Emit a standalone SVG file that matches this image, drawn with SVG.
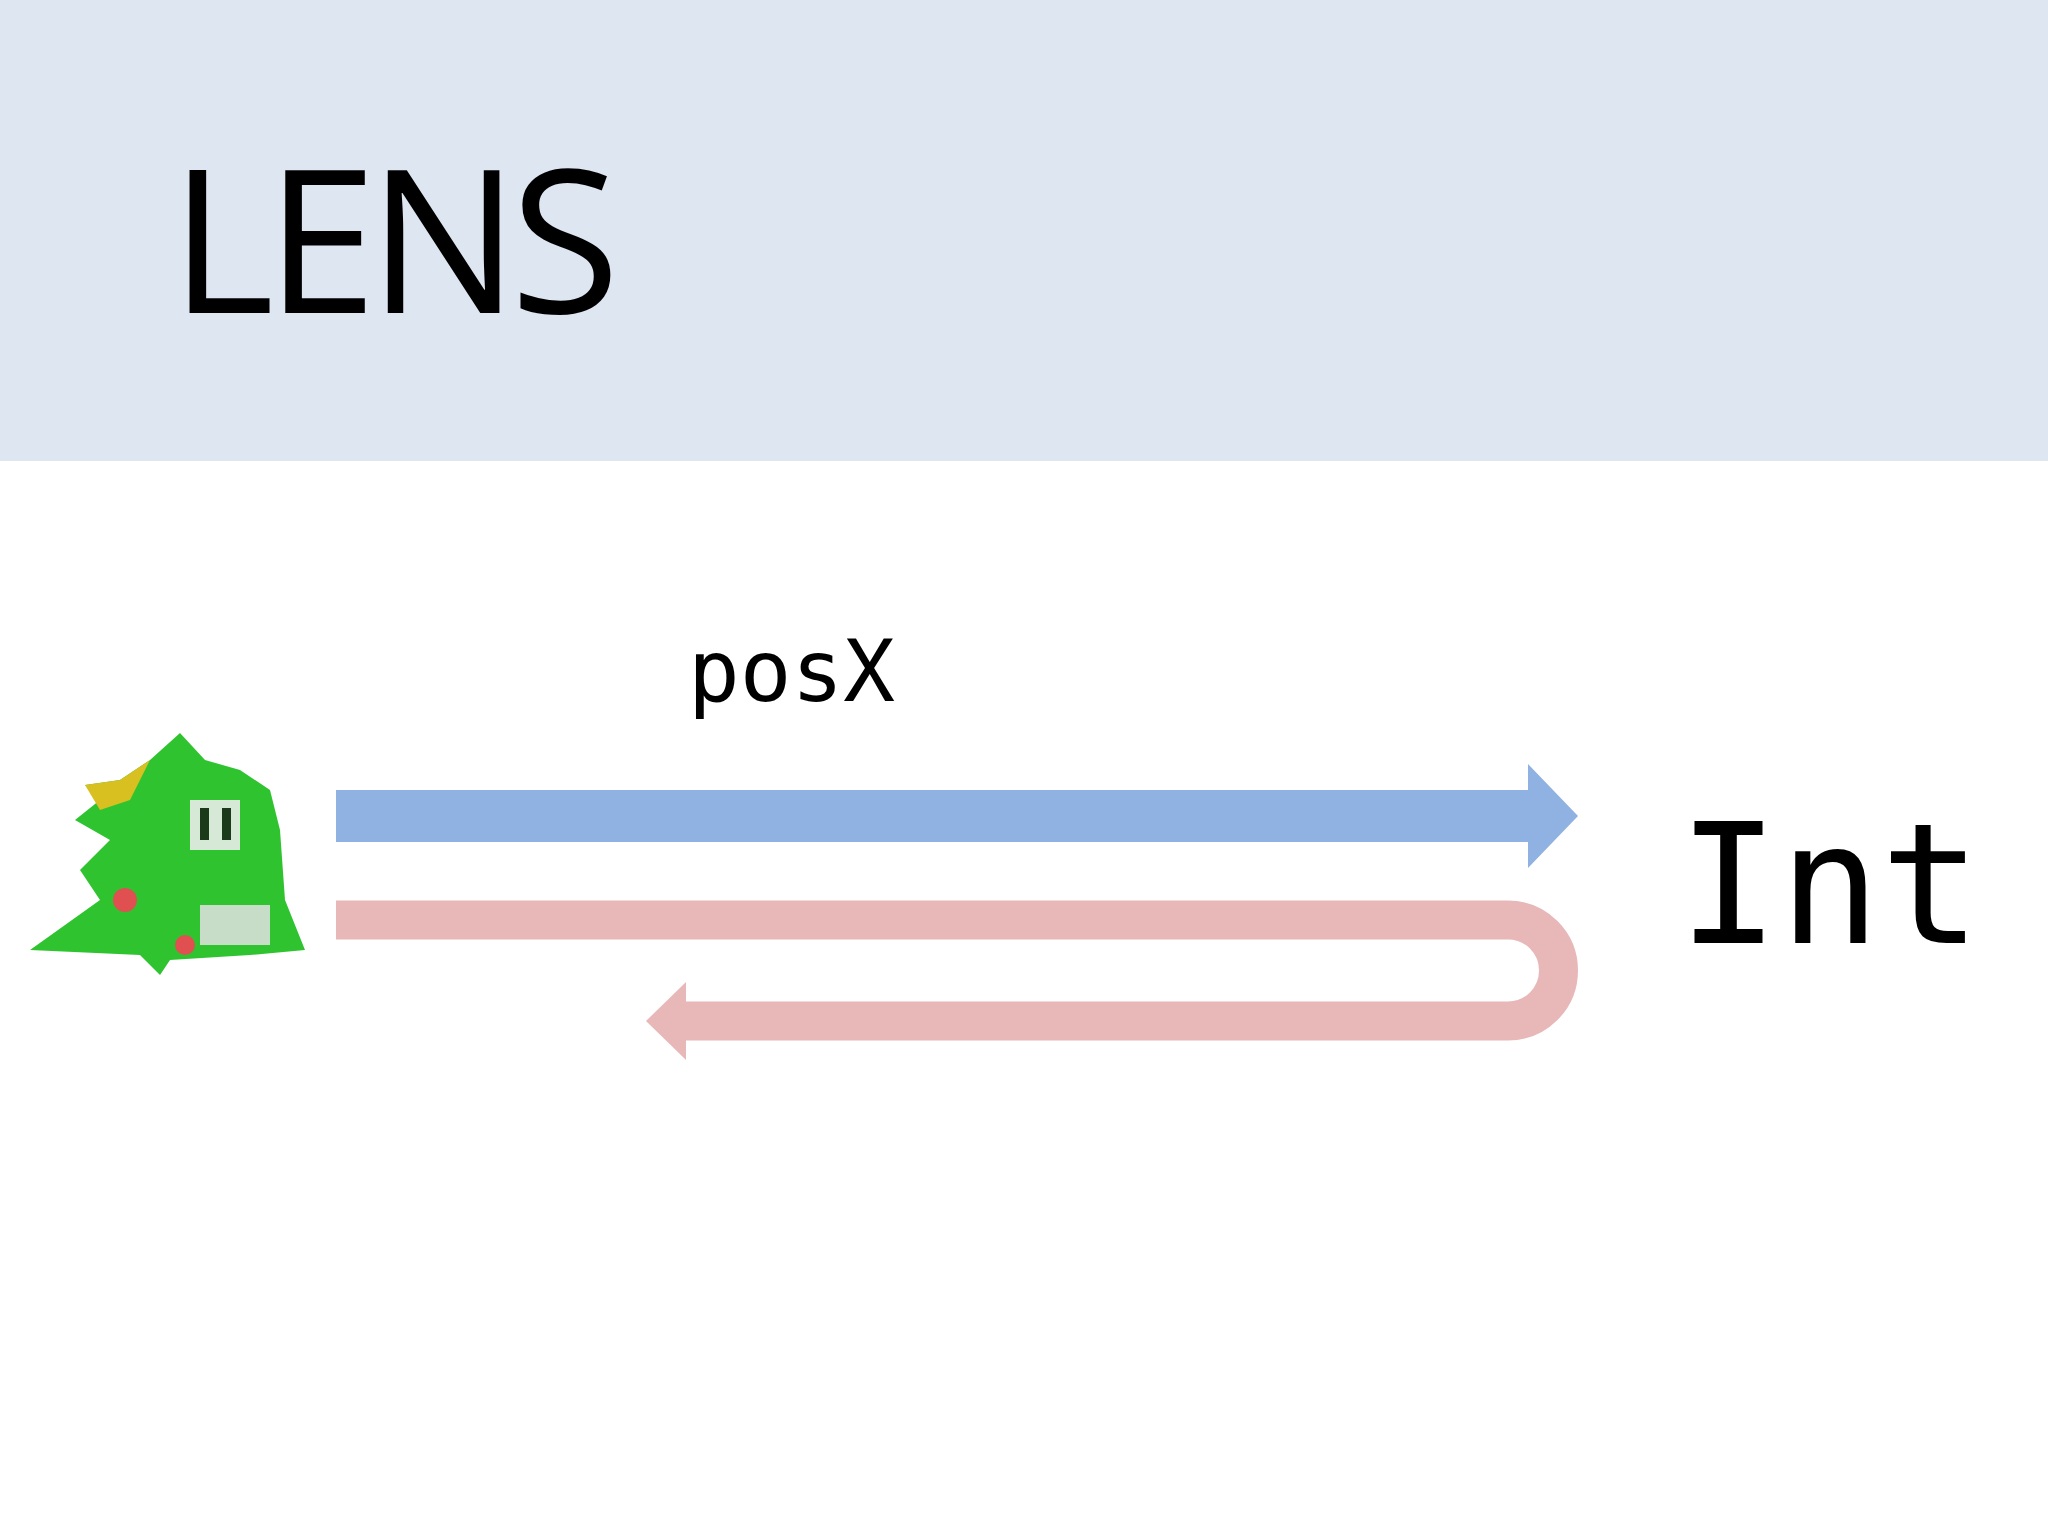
<svg xmlns="http://www.w3.org/2000/svg" width="2048" height="1536" viewBox="0 0 2048 1536">
<style>
.title{font-family:"Open Sans","Liberation Sans",sans-serif;font-size:200px;fill:#000}
.mono{font-family:"DejaVu Sans Mono","Liberation Mono",monospace;fill:#000}
</style>
<rect width="2048" height="1536" fill="#fff"/>
<rect id="header" width="2048" height="461" fill="#dee6f2"/>
<text class="title" x="170" y="313" textLength="450">LENS</text>
<g id="sprite">
<polygon points="30,950 100,900 80,870 110,840 75,820 100,800 85,785 120,780 150,760 180,733 205,760 240,770 270,790 280,830 285,900 305,950 250,955 170,960 160,975 140,955" fill="#2fc42f"/>
<polygon points="85,785 120,780 150,760 130,800 100,810" fill="#d8c020"/>
<rect x="190" y="800" width="50" height="50" fill="#d6e8d6"/>
<rect x="200" y="808" width="9" height="32" fill="#1a3a1a"/>
<rect x="222" y="808" width="9" height="32" fill="#1a3a1a"/>
<circle cx="125" cy="900" r="12" fill="#e05050"/>
<circle cx="185" cy="945" r="10" fill="#e05050"/>
<rect x="200" y="905" width="70" height="40" fill="#c8ddc8"/>
</g>
<g id="connectors">
<polygon id="get" points="336,790 1528,790 1528,764 1578,816 1528,868 1528,842 336,842" fill="#8fb2e2"/>
<path id="set" d="M336,920 H1508 A50.5,50.5 0 0 1 1508,1021 H684" fill="none" stroke="#e8b8b9" stroke-width="39"/>
<polygon points="646,1021 686,982 686,1060" fill="#e8b8b9"/>
</g>
<g id="label-posx"><text class="mono" x="688" y="701" font-size="86">posX</text></g>
<g id="node-int"><text class="mono" x="1678" y="943" font-size="168">Int</text></g>
</svg>
